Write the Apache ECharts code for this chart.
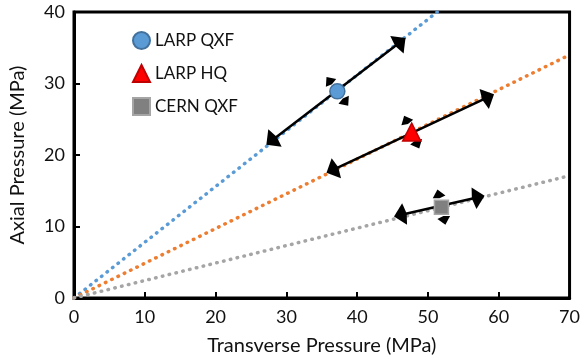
<!DOCTYPE html>
<html lang="en">
<head>
<meta charset="UTF-8">
<title>Axial vs Transverse Pressure</title>
<script src="https://cdn.jsdelivr.net/npm/echarts@6/dist/echarts.min.js"></script>
<style>
  html, body { margin: 0; padding: 0; background: #fff; }
  #main { width: 583px; height: 362px; }
</style>
</head>
<body>
<div id="main"></div>
<script>
// data
var names = ['LARP QXF', 'LARP HQ', 'CERN QXF'];
var points = [[37.2, 28.9], [47.7, 23.2], [51.9, 12.7]];
var barStart = [[27.9, 22.0], [36.5, 17.9], [46.1, 11.6]];
var barEnd = [[46.1, 35.8], [58.5, 28.1], [57.1, 14.1]];
var trendEnd = [[51.3, 40], [70, 34.0], [70, 17.1]];
var xTicks = [0, 10, 20, 30, 40, 50, 60, 70];
var yTicks = [0, 10, 20, 30, 40];

var trendColors = ['#5b9bd5', '#ed7d31', '#a5a5a5'];
var symbols = ['circle', 'triangle', 'rect'];
var symbolSizes = [15, 18, 14];
var fills = ['#5b9bd5', '#ff0000', '#808080'];
var borders = ['#41719c', '#c00000', '#a5a5a5'];

// broad kite shaped arrow head, tip up
var kite = 'path://M10,0 L20,10 L10,12 L0,10 Z';

var font = 'Lato, "Open Sans", sans-serif';
var chart = echarts.init(document.getElementById('main'));
var series = [];

// dotted trend lines
for (var i = 0; i < 3; i++) {
    series.push({
        type: 'line',
        data: [[0, 0], trendEnd[i]],
        symbol: 'none',
        silent: true,
        z: 1,
        lineStyle: { color: trendColors[i], width: 3.5, type: [0.5, 6.5], cap: 'round' }
    });
}

// small perpendicular arrows beside each marker
var smallArrows = [];
for (var i = 0; i < 3; i++) {
    var dx = barEnd[i][0] - barStart[i][0];
    var dy = barEnd[i][1] - barStart[i][1];
    var len = Math.sqrt(dx * dx + dy * dy);
    var px = -dy / len * 1.9, py = dx / len * 1.9;
    var ang = Math.atan2(py, px) * 180 / Math.PI;
    smallArrows.push({ value: [points[i][0] + px, points[i][1] + py], symbolRotate: ang - 90 });
    smallArrows.push({ value: [points[i][0] - px, points[i][1] - py], symbolRotate: ang + 90 });
}
series.push({
    type: 'scatter',
    data: smallArrows,
    symbol: kite,
    symbolSize: [13, 9],
    silent: true,
    z: 3,
    itemStyle: { color: '#000', opacity: 1 }
});

// markers with error arrows
for (var i = 0; i < 3; i++) {
    series.push({
        name: names[i],
        type: 'scatter',
        data: [points[i]],
        symbol: symbols[i],
        symbolSize: symbolSizes[i],
        z: 5,
        itemStyle: { color: fills[i], borderColor: borders[i], borderWidth: 1.5, opacity: 1 },
        markLine: {
            silent: true,
            symbol: [kite, kite],
            symbolSize: [22, 13],
            label: { show: false },
            lineStyle: { color: '#000', width: 2.5, type: 'solid' },
            data: [[{ coord: barStart[i] }, { coord: barEnd[i] }]],
            z: 4
        }
    });
}

var option = {
    animation: false,
    backgroundColor: '#fff',
    textStyle: { fontFamily: font },
    grid: {
        left: 73, right: 11, top: 12, bottom: 64,
        show: true, borderColor: '#000', borderWidth: 3
    },
    legend: {
        orient: 'vertical',
        left: 127, top: 26,
        itemGap: 14,
        itemWidth: 17, itemHeight: 17,
        data: names,
        textStyle: { fontSize: 17, color: '#111', fontFamily: font }
    },
    xAxis: {
        type: 'value',
        min: xTicks[0], max: xTicks[xTicks.length - 1], interval: 10,
        name: 'Transverse Pressure (MPa)',
        nameLocation: 'middle', nameGap: 38,
        nameTextStyle: { fontSize: 20, color: '#111', fontFamily: font },
        axisLine: { lineStyle: { color: '#000', width: 3 } },
        axisTick: { inside: true, length: 6, lineStyle: { color: '#000', width: 2 } },
        axisLabel: { fontSize: 18, color: '#111', margin: 10 },
        splitLine: { show: false }
    },
    yAxis: {
        type: 'value',
        min: yTicks[0], max: yTicks[yTicks.length - 1], interval: 10,
        name: 'Axial Pressure (MPa)',
        nameLocation: 'middle', nameGap: 46,
        nameTextStyle: { fontSize: 20, color: '#111', fontFamily: font },
        axisLine: { lineStyle: { color: '#000', width: 3 } },
        axisTick: { inside: true, length: 6, lineStyle: { color: '#000', width: 2 } },
        axisLabel: { fontSize: 18, color: '#111', margin: 9 },
        splitLine: { show: false }
    },
    series: series
};
chart.setOption(option);
</script>
</body>
</html>
